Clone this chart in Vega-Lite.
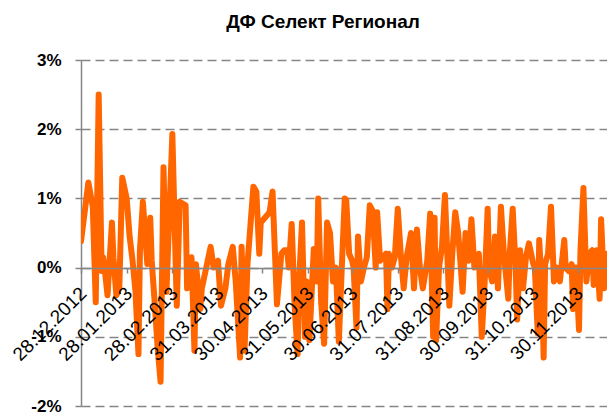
{
  "$schema": "https://vega.github.io/schema/vega-lite/v6.json",
  "autosize": "none",
  "width": 526,
  "height": 346,
  "padding": {"left": 81, "top": 60, "right": 0, "bottom": 6},
  "background": "white",
  "config": {"view": {"stroke": null}},
  "title": {
    "text": "ДФ Селект Регионал",
    "font": "Liberation Sans",
    "fontSize": 19,
    "fontWeight": "bold",
    "color": "#000000",
    "anchor": "middle",
    "frame": "group",
    "dx": -21,
    "offset": 19
  },
  "data": {
    "values": [
      {"date": "28.12.2012", "value": 0.38},
      {"date": "02.01.2013", "value": 1.23},
      {"date": "05.01.2013", "value": 0.88},
      {"date": "07.01.2013", "value": -0.5},
      {"date": "09.01.2013", "value": 2.5},
      {"date": "11.01.2013", "value": -0.05},
      {"date": "12.01.2013", "value": 0.15},
      {"date": "13.01.2013", "value": 0.0},
      {"date": "15.01.2013", "value": -0.4},
      {"date": "18.01.2013", "value": 0.65},
      {"date": "19.01.2013", "value": 0.15},
      {"date": "21.01.2013", "value": -0.4},
      {"date": "23.01.2013", "value": -0.3},
      {"date": "25.01.2013", "value": 1.3},
      {"date": "28.01.2013", "value": 1.0},
      {"date": "30.01.2013", "value": 0.45},
      {"date": "01.02.2013", "value": 0.1},
      {"date": "03.02.2013", "value": -0.35},
      {"date": "05.02.2013", "value": -1.25},
      {"date": "06.02.2013", "value": 0.25},
      {"date": "08.02.2013", "value": 0.95},
      {"date": "11.02.2013", "value": 0.05},
      {"date": "13.02.2013", "value": 0.72},
      {"date": "14.02.2013", "value": 0.1},
      {"date": "16.02.2013", "value": -0.5},
      {"date": "18.02.2013", "value": -1.15},
      {"date": "20.02.2013", "value": -1.65},
      {"date": "22.02.2013", "value": 1.45},
      {"date": "24.02.2013", "value": -0.35},
      {"date": "28.02.2013", "value": 1.93},
      {"date": "03.03.2013", "value": -0.55},
      {"date": "05.03.2013", "value": 0.95},
      {"date": "09.03.2013", "value": 0.9},
      {"date": "10.03.2013", "value": -0.3},
      {"date": "13.03.2013", "value": 0.15},
      {"date": "15.03.2013", "value": -1.2},
      {"date": "16.03.2013", "value": 0.05},
      {"date": "19.03.2013", "value": -0.6},
      {"date": "20.03.2013", "value": -0.3},
      {"date": "23.03.2013", "value": 0.0},
      {"date": "26.03.2013", "value": 0.3},
      {"date": "28.03.2013", "value": 0.0},
      {"date": "31.03.2013", "value": 0.1},
      {"date": "02.04.2013", "value": -0.55},
      {"date": "05.04.2013", "value": -0.3},
      {"date": "07.04.2013", "value": 0.05},
      {"date": "10.04.2013", "value": 0.3},
      {"date": "12.04.2013", "value": -0.2},
      {"date": "15.04.2013", "value": -1.3},
      {"date": "16.04.2013", "value": 0.3},
      {"date": "18.04.2013", "value": -1.2},
      {"date": "20.04.2013", "value": 0.05},
      {"date": "24.04.2013", "value": 1.17},
      {"date": "26.04.2013", "value": 1.1},
      {"date": "28.04.2013", "value": 0.2},
      {"date": "29.04.2013", "value": 0.65},
      {"date": "05.05.2013", "value": 0.8},
      {"date": "07.05.2013", "value": 1.1},
      {"date": "10.05.2013", "value": -0.53},
      {"date": "13.05.2013", "value": 0.2},
      {"date": "15.05.2013", "value": 0.25},
      {"date": "17.05.2013", "value": 0.25},
      {"date": "18.05.2013", "value": 0.0},
      {"date": "20.05.2013", "value": 0.63},
      {"date": "22.05.2013", "value": -0.55},
      {"date": "24.05.2013", "value": -1.25},
      {"date": "25.05.2013", "value": -0.2},
      {"date": "27.05.2013", "value": 0.65},
      {"date": "29.05.2013", "value": -1.0},
      {"date": "30.05.2013", "value": -0.2},
      {"date": "01.06.2013", "value": -1.05},
      {"date": "04.06.2013", "value": 0.27},
      {"date": "06.06.2013", "value": -0.2},
      {"date": "07.06.2013", "value": 1.0},
      {"date": "09.06.2013", "value": -0.5},
      {"date": "11.06.2013", "value": -1.1},
      {"date": "13.06.2013", "value": 0.65},
      {"date": "15.06.2013", "value": 0.5},
      {"date": "17.06.2013", "value": -0.2},
      {"date": "19.06.2013", "value": 0.0},
      {"date": "21.06.2013", "value": -1.07},
      {"date": "23.06.2013", "value": 0.0},
      {"date": "25.06.2013", "value": 1.0},
      {"date": "26.06.2013", "value": 0.98},
      {"date": "28.06.2013", "value": 0.2},
      {"date": "30.06.2013", "value": 0.1},
      {"date": "01.07.2013", "value": 0.0},
      {"date": "03.07.2013", "value": -0.87},
      {"date": "04.07.2013", "value": 0.45},
      {"date": "06.07.2013", "value": -0.2},
      {"date": "08.07.2013", "value": 0.0},
      {"date": "10.07.2013", "value": 0.15},
      {"date": "12.07.2013", "value": 0.9},
      {"date": "14.07.2013", "value": 0.82},
      {"date": "16.07.2013", "value": 0.0},
      {"date": "17.07.2013", "value": 0.8},
      {"date": "19.07.2013", "value": 0.1},
      {"date": "21.07.2013", "value": 0.15},
      {"date": "23.07.2013", "value": 0.2},
      {"date": "24.07.2013", "value": -0.6},
      {"date": "25.07.2013", "value": 0.2},
      {"date": "27.07.2013", "value": 0.0},
      {"date": "29.07.2013", "value": 0.15},
      {"date": "31.07.2013", "value": 0.85},
      {"date": "02.08.2013", "value": 0.2},
      {"date": "04.08.2013", "value": -0.3},
      {"date": "06.08.2013", "value": 0.15},
      {"date": "09.08.2013", "value": 0.5},
      {"date": "11.08.2013", "value": -0.3},
      {"date": "13.08.2013", "value": 0.55},
      {"date": "15.08.2013", "value": 0.0},
      {"date": "17.08.2013", "value": -0.3},
      {"date": "20.08.2013", "value": 0.1},
      {"date": "22.08.2013", "value": 0.78},
      {"date": "24.08.2013", "value": -1.0},
      {"date": "25.08.2013", "value": 0.72},
      {"date": "26.08.2013", "value": -1.05},
      {"date": "28.08.2013", "value": 0.0},
      {"date": "30.08.2013", "value": 0.3},
      {"date": "01.09.2013", "value": 1.05},
      {"date": "04.09.2013", "value": -0.55},
      {"date": "06.09.2013", "value": 0.2},
      {"date": "08.09.2013", "value": 0.8},
      {"date": "10.09.2013", "value": 0.5},
      {"date": "13.09.2013", "value": -0.35},
      {"date": "15.09.2013", "value": 0.5},
      {"date": "17.09.2013", "value": 0.1},
      {"date": "19.09.2013", "value": 0.7},
      {"date": "21.09.2013", "value": 0.0},
      {"date": "23.09.2013", "value": 0.15},
      {"date": "24.09.2013", "value": 0.2},
      {"date": "26.09.2013", "value": -1.0},
      {"date": "28.09.2013", "value": -0.2},
      {"date": "30.09.2013", "value": 0.85},
      {"date": "01.10.2013", "value": 0.0},
      {"date": "03.10.2013", "value": -0.2},
      {"date": "05.10.2013", "value": 0.45},
      {"date": "07.10.2013", "value": -0.3},
      {"date": "09.10.2013", "value": 0.88},
      {"date": "11.10.2013", "value": 0.2},
      {"date": "14.10.2013", "value": -0.45},
      {"date": "15.10.2013", "value": 0.2},
      {"date": "17.10.2013", "value": 0.85},
      {"date": "19.10.2013", "value": 0.0},
      {"date": "20.10.2013", "value": -0.75},
      {"date": "22.10.2013", "value": 0.25},
      {"date": "24.10.2013", "value": -0.3},
      {"date": "26.10.2013", "value": 0.15},
      {"date": "28.10.2013", "value": 0.35},
      {"date": "31.10.2013", "value": 0.05},
      {"date": "01.11.2013", "value": 0.0},
      {"date": "03.11.2013", "value": -0.95},
      {"date": "04.11.2013", "value": 0.4},
      {"date": "06.11.2013", "value": -0.4},
      {"date": "07.11.2013", "value": -1.3},
      {"date": "08.11.2013", "value": 0.05},
      {"date": "10.11.2013", "value": 0.2},
      {"date": "12.11.2013", "value": 0.88},
      {"date": "14.11.2013", "value": -0.2},
      {"date": "16.11.2013", "value": 0.0},
      {"date": "18.11.2013", "value": -0.2},
      {"date": "21.11.2013", "value": 0.4},
      {"date": "22.11.2013", "value": 0.0},
      {"date": "24.11.2013", "value": -0.05},
      {"date": "26.11.2013", "value": 0.05},
      {"date": "27.11.2013", "value": -0.6},
      {"date": "29.11.2013", "value": 0.0},
      {"date": "01.12.2013", "value": -0.9},
      {"date": "02.12.2013", "value": 0.25},
      {"date": "04.12.2013", "value": 1.15},
      {"date": "06.12.2013", "value": -0.2},
      {"date": "08.12.2013", "value": 0.2},
      {"date": "10.12.2013", "value": 0.25},
      {"date": "11.12.2013", "value": -0.25},
      {"date": "13.12.2013", "value": 0.25},
      {"date": "15.12.2013", "value": -0.45},
      {"date": "16.12.2013", "value": 0.7},
      {"date": "18.12.2013", "value": -0.3},
      {"date": "20.12.2013", "value": 0.2}
    ],
    "format": {"parse": {"date": "date:'%d.%m.%Y'"}}
  },
  "mark": {
    "type": "line",
    "color": "#FF6600",
    "strokeWidth": 6,
    "strokeJoin": "round",
    "strokeCap": "round",
    "clip": true
  },
  "encoding": {
    "x": {
      "field": "date",
      "type": "temporal",
      "scale": {
        "domain": [
          {"year": 2012, "month": 12, "date": 28},
          {"year": 2013, "month": 12, "date": 20}
        ]
      },
      "axis": {
        "title": null,
        "orient": "bottom",
        "offset": -138,
        "zindex": 1,
        "grid": false,
        "values": [
          {"year": 2012, "month": 12, "date": 28},
          {"year": 2013, "month": 1, "date": 28},
          {"year": 2013, "month": 2, "date": 28},
          {"year": 2013, "month": 3, "date": 31},
          {"year": 2013, "month": 4, "date": 30},
          {"year": 2013, "month": 5, "date": 31},
          {"year": 2013, "month": 6, "date": 30},
          {"year": 2013, "month": 7, "date": 31},
          {"year": 2013, "month": 8, "date": 31},
          {"year": 2013, "month": 9, "date": 30},
          {"year": 2013, "month": 10, "date": 31},
          {"year": 2013, "month": 11, "date": 30}
        ],
        "format": "%d.%m.%Y",
        "labelAngle": -45,
        "labelAlign": "right",
        "labelBaseline": "middle",
        "labelPadding": 17,
        "labelOffset": 2,
        "labelFont": "Liberation Sans",
        "labelFontSize": 19,
        "labelColor": "#000000",
        "labelOverlap": false,
        "labelFlush": false,
        "labelBound": false,
        "domainColor": "#868686",
        "domainWidth": 1.5,
        "tickColor": "#868686",
        "tickWidth": 1.5,
        "tickSize": 5
      }
    },
    "y": {
      "field": "value",
      "type": "quantitative",
      "scale": {"domain": [-2, 3], "nice": false, "zero": false},
      "axis": {
        "title": null,
        "values": [-2, -1, 0, 1, 2, 3],
        "labelExpr": "datum.value + '%'",
        "labelFont": "Liberation Sans",
        "labelFontSize": 17,
        "labelFontWeight": "bold",
        "labelColor": "#000000",
        "labelPadding": 14,
        "grid": true,
        "gridColor": "#868686",
        "gridDash": [9, 5],
        "gridWidth": 1.5,
        "domainColor": "#868686",
        "domainWidth": 1.5,
        "tickColor": "#868686",
        "tickWidth": 1.5,
        "tickSize": 6
      }
    }
  }
}
